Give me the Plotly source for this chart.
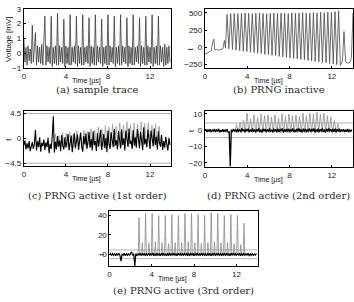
import numpy as np
import plotly.graph_objects as go

W, H = 354, 302

# ---------------- data ----------------
# (a) sample trace, sampled every 0.1 us
a_t0, a_dt = 0.0, 0.1
a_vals = [1.0, -0.6, 0.4, -0.8, 0.5, -0.5, 0.3, -0.7, 1.9, -0.6,
          0.4, 1.4, -0.8, 0.5, -0.6, 0.4, -0.7, 0.6, -0.8, 0.5,
          2.5, -0.8, 0.5, -0.6, 0.4, -0.7,
          2.5, -0.9, 0.4, -0.7, 0.5, -0.8,
          2.7, -0.8, 0.5, -0.6, 0.4, -0.7,
          2.3, -0.9, 0.5, -0.7, 0.4, -0.8,
          2.6, -0.8, 0.4, -0.6, 0.5, -0.7,
          2.5, -0.9, 0.5, -0.7, 0.4, -0.8,
          2.6, -0.8, 0.4, -0.6, 0.5, -0.7,
          2.4, -0.9, 0.5, -0.7, 0.4, -0.8,
          2.6, -0.8, 0.5, -0.6, 0.4, -0.7,
          2.3, -0.9, 0.4, -0.7, 0.5, -0.8,
          2.6, -0.8, 0.5, -0.6, 0.4, -0.7,
          2.5, -0.9, 0.4, -0.7, 0.5, -0.8,
          2.6, -0.8, 0.5, -0.6, 0.4, -0.7,
          2.4, -0.9, 0.5, -0.7, 0.4, -0.8,
          2.6, -0.8, 0.4, -0.6, 0.5, -0.7,
          2.4, -0.9, 0.5, -0.7, 0.4, -0.8,
          2.5, -0.8, 0.5, -0.6, 0.4, -0.7,
          2.6, -0.9, 0.4, -0.7, 0.5, -0.8,
          2.5, -0.8, 0.5, -0.6, 0.4, -0.9,
          0.6, -0.8, 0.4, -0.7, 0.5, -0.6]

# (b) PRNG inactive
b_pre_t = [0.0, 0.2, 0.4, 0.6, 0.75, 0.85, 0.95, 1.1, 1.3, 1.5, 1.7, 1.85, 1.95]
b_pre_v = [-100, -80, -60, -50, 80, 120, -40, -30, -40, -30, -20, 100, -10]
b_peak_start, b_period = 2.1, 0.34
b_peaks = [480, 490, 495, 490, 495, 500, 495, 490, 495, 500, 495, 490, 495, 500, 495, 500,
           495, 490, 500, 495, 500, 505, 500, 495, 505, 500, 510, 505, 515, 510, 520, 530]
b_troughs = [-20, -30, -40, -45, -55, -60, -70, -75, -85, -90, -100, -105, -115, -120, -130, -135,
             -145, -150, -160, -165, -175, -180, -190, -195, -205, -210, -220, -225, -235, -240, -250, -260]
b_post_t = [13.0, 13.15, 13.3, 13.5, 13.7, 13.85, 14.0]
b_post_v = [-200, 230, -210, -230, -220, -150, 500]

# (c) PRNG active 1st order
c_dt = 0.1
c_black = [-1.2, -0.4, -2.0, -0.9, -1.8, -0.5, -2.3, -1.1, -0.7, -1.9,
           -1.0, 1.5, -2.2, -0.5, -1.6, 0.2, -2.4, -0.8, -1.4, -0.2,
           -2.1, -0.7, -1.6, 0.1, -2.7, -1.0, -1.9, 0.3, 4.0, -2.6,
           -0.6, -2.0, 0.4, -1.5, -0.4, -2.3, 0.6, -1.3, -2.0, 0.2,
           -1.7, -0.6, 0.8, -2.2, -0.9, 0.5, -2.5, -0.5, 0.9, -1.8,
           -0.7, 0.7, -2.1, -0.5, 1.0, -1.6, -2.4, 0.4, -1.1, 0.9,
           -1.9, -0.6, 1.2, -1.7, -0.1, -2.2, 1.3, -1.2, -0.5, -2.3,
           0.9, -1.5, -0.4, 1.5, -2.1, -0.8, 0.8, -1.8, 0.1, -2.5,
           1.4, -1.1, -1.9, 1.1, -0.6, -1.6, 1.7, -1.3, -0.3, -2.0,
           1.3, -0.9, -1.8, 1.6, -1.2, 0.0, -2.2, 1.4, -0.7, -1.5,
           1.8, -1.0, -0.4, -1.9, 1.5, -1.3, 0.2, -1.7, 1.7, -0.8,
           -1.8, 1.2, -0.5, -2.1, 2.0, -1.1, -0.1, -1.6, 1.6, -0.9,
           -1.9, 1.4, -0.6, -1.4, 1.8, -1.2, 0.3, -2.0, 1.3, -0.9,
           -1.5, 0.6, -2.1, -0.5, -1.7, 0.3, -1.1, -2.2, 0.1, -1.2]
c_gray_start, c_gray_period = 3.0, 0.34
c_gray_peaks = [0.8, 0.5, 1.0, 0.9, 1.2, 0.8, 1.4, 1.1, 1.5, 1.3, 1.8, 1.5, 2.0, 1.7, 2.3,
                2.0, 2.6, 2.2, 2.8, 2.4, 3.0, 2.5, 2.8, 2.6, 3.0, 2.7, 2.9, 2.4, 2.6, 2.2]
c_gray_trough = -1.5

# (d) PRNG active 2nd order
d_dt = 0.1
d_black = [-0.3, 0.6, -1.0, 0.4, -0.8, 0.7, -1.2, 0.3, -0.6, 0.8,
           -1.1, 0.5, -0.7, 0.9, -1.3, 0.2, -0.9, 0.6, -1.0, 0.4,
           -0.8, 0.7, -1.2, -1.0, -22.0, 0.3, -1.1, 0.8, -0.6, 0.5,
           -1.2, 0.9, -0.7, 0.4, -1.0, 1.1, -0.5, 0.6, -1.3, 0.8,
           -0.6, 1.0, -1.1, 0.3, -0.8, 1.2, -0.9, 0.5, -1.2, 0.7,
           -0.7, 1.1, -1.0, 0.4, -1.3, 0.9, -0.6, 0.8, -1.1, 0.5,
           -0.9, 1.2, -0.7, 0.3, -1.2, 1.0, -0.8, 0.6, -1.0, 0.9,
           -1.1, 0.7, -0.6, 1.1, -1.3, 0.5, -0.9, 0.8, -0.7, 1.0,
           -1.2, 0.6, -0.8, 1.2, -1.0, 0.4, -1.1, 0.9, -0.6, 1.1,
           -0.9, 0.5, -1.2, 1.0, -0.7, 0.8, -1.3, 0.6, -0.8, 1.2,
           -1.0, 0.7, -0.6, 1.1, -1.2, 0.5, -0.9, 1.0, -1.1, 0.6,
           -0.7, 1.2, -1.0, 0.4, -1.3, 0.9, -0.8, 1.1, -0.6, 0.7,
           -1.1, 0.8, -0.9, 1.0, -1.2, 0.6, -0.7, 0.9, -1.0, 0.5,
           -0.8, 0.7, -1.1, 0.4, -0.9, 0.8, -1.2, 0.3, -0.6, 0.5]
d_gray_start, d_gray_period = 3.0, 0.33
d_gray_peaks = [3.5, 5.0, 6.0, 10.5, 7.0, 9.5, 8.0, 10.0, 9.0, 9.5, 8.0, 9.5, 7.5, 10.0, 8.5,
                10.0, 9.0, 9.5, 8.5, 10.5, 9.0, 10.5, 10.0, 11.0, 10.0, 10.5, 9.0, 8.0, 6.0, 4.0]
d_gray_trough = -1.5

# (e) PRNG active 3rd order
e_dt = 0.1
e_black = [-0.5, 0.8, -1.2, 0.6, -1.0, 0.9, -1.4, 0.5, -0.8, 1.0,
           -1.3, -7.0, 0.6, -0.9, 1.1, -1.5, 0.4, -1.0, 0.8, -1.2,
           0.7, 2.5, -1.1, 0.6, -12.0, 0.9, -1.4, 0.5, -0.8, 1.0,
           -1.3, 0.7, -1.0, 1.2, -1.5, 0.6, -0.9, 1.1, -1.2, 0.8,
           -0.7, 1.3, -1.4, 0.5, -1.0, 1.2, -1.1, 0.7, -1.5, 0.9,
           -0.8, 1.2, -1.3, 0.6, -1.6, 1.0, -0.9, 0.8, -1.2, 0.7,
           -1.0, 1.3, -0.8, 0.5, -1.4, 1.1, -1.0, 0.7, -1.2, 1.0,
           -1.3, 0.8, -0.7, 1.2, -1.5, 0.6, -1.0, 0.9, -0.8, 1.1,
           -1.4, 0.7, -0.9, 1.3, -1.1, 0.5, -1.2, 1.0, -0.7, 1.2,
           -1.0, 0.6, -1.4, 1.1, -0.8, 0.9, -1.5, 0.7, -0.9, 1.3,
           -1.2, 0.8, -0.7, 1.2, -1.3, 0.6, -1.0, 1.1, -1.2, 0.7,
           -0.8, 1.3, -1.1, 0.5, -1.5, 1.0, -0.9, 1.2, -0.7, 0.8,
           -1.2, 0.9, -1.0, 1.1, -1.4, 0.7, -0.8, 1.0, -1.1, 0.6,
           -0.9, 0.8, -1.2, 0.5, -1.0, 0.9, -1.3, 0.4, -0.7, 0.6]
e_tall_start, e_tall_period = 2.8, 0.62
e_tall_peaks = [38, 42, 42, 40, 40, 41, 40, 42, 42, 41, 40, 43, 42, 40, 41, 40, 32]
e_mid_peaks = [12, 12, 13, 12, 11, 12, 12, 13, 12, 11, 12, 13, 12, 12, 11, 10]
e_gray_trough = -1.0

threshold = 4.5

# ---------------- helpers ----------------
def uniform_t(start, dt, n):
    return start + dt * np.arange(n)

def spikes(start, period, peaks, trough):
    ts, vs = [], []
    for k, p in enumerate(peaks):
        tp = start + period * k
        ts += [tp - period / 2, tp]
        vs += [trough, p]
    ts.append(start + period * (len(peaks) - 1) + period / 2)
    vs.append(trough)
    return ts, vs

def px_x(x):
    return x / W

def px_y(y):
    return 1 - y / H

# panel pixel boxes: (left, right, top, bottom)
boxes = {
    "a": (22, 170, 5, 66),
    "b": (204, 353, 5, 66),
    "c": (22, 170, 110, 167),
    "d": (204, 353, 110, 168),
    "e": (108, 257, 213, 270),
}
order = ["a", "b", "c", "d", "e"]

fig = go.Figure()

TICKFONT = dict(family="Liberation Sans, Arial, sans-serif", size=8, color="#222")
axis_common = dict(showline=True, linecolor="black", linewidth=1, mirror=True,
                   ticks="inside", ticklen=2, tickcolor="black", showgrid=False,
                   zeroline=False, tickfont=TICKFONT)

yranges = {"a": [-1, 3], "b": [-300, 560], "c": [-5, 5], "d": [-22.5, 12], "e": [-12, 45]}
yticks = {"a": [-1, 0, 1, 2, 3], "b": [-250, 0, 250, 500], "c": [-4.5, 0, 4.5],
          "d": [-20, -10, 0, 10], "e": [0, 20, 40]}

layout_axes = {}
for i, key in enumerate(order):
    l, r, t, b = boxes[key]
    xa = "xaxis" if i == 0 else f"xaxis{i+1}"
    ya = "yaxis" if i == 0 else f"yaxis{i+1}"
    layout_axes[xa] = dict(domain=[px_x(l), px_x(r)], range=[0, 14], tickvals=[0, 4, 8, 12],
                           anchor=f"y{'' if i == 0 else i+1}", **axis_common)
    layout_axes[ya] = dict(domain=[px_y(b), px_y(t)], range=yranges[key], tickvals=yticks[key],
                           anchor=f"x{'' if i == 0 else i+1}", **axis_common)

def ax(i):
    return ("x" if i == 0 else f"x{i+1}", "y" if i == 0 else f"y{i+1}")

# (a)
xa_, ya_ = ax(0)
fig.add_trace(go.Scatter(x=uniform_t(a_t0, a_dt, len(a_vals)), y=a_vals, mode="lines",
                         line=dict(color="#3a3a3a", width=0.8), xaxis=xa_, yaxis=ya_))

# (b)
xa_, ya_ = ax(1)
bt, bv = [], []
for k, (p, tr) in enumerate(zip(b_peaks, b_troughs)):
    tp = b_peak_start + b_period * k
    bt += [tp, tp + b_period / 2]
    bv += [p, tr]
fig.add_trace(go.Scatter(x=b_pre_t + bt + b_post_t, y=b_pre_v + bv + b_post_v, mode="lines",
                         line=dict(color="#4a4a4a", width=0.8), xaxis=xa_, yaxis=ya_))

GRAYLINE = "#b4b4b4"
# (c)
xa_, ya_ = ax(2)
for v in (threshold, -threshold):
    fig.add_trace(go.Scatter(x=[0, 14], y=[v, v], mode="lines", line=dict(color=GRAYLINE, width=1),
                             xaxis=xa_, yaxis=ya_))
gt, gv = spikes(c_gray_start, c_gray_period, c_gray_peaks, c_gray_trough)
fig.add_trace(go.Scatter(x=gt, y=gv, mode="lines", line=dict(color="#9a9a9a", width=0.8),
                         xaxis=xa_, yaxis=ya_))
fig.add_trace(go.Scatter(x=uniform_t(0, c_dt, len(c_black)), y=c_black, mode="lines",
                         line=dict(color="black", width=1.1), xaxis=xa_, yaxis=ya_))

# (d)
xa_, ya_ = ax(3)
for v in (threshold, -threshold):
    fig.add_trace(go.Scatter(x=[0, 14], y=[v, v], mode="lines", line=dict(color=GRAYLINE, width=1),
                             xaxis=xa_, yaxis=ya_))
gt, gv = spikes(d_gray_start, d_gray_period, d_gray_peaks, d_gray_trough)
fig.add_trace(go.Scatter(x=gt, y=gv, mode="lines", line=dict(color="#8c8c8c", width=0.8),
                         xaxis=xa_, yaxis=ya_))
fig.add_trace(go.Scatter(x=uniform_t(0, d_dt, len(d_black)), y=d_black, mode="lines",
                         line=dict(color="black", width=1.3), xaxis=xa_, yaxis=ya_))

# (e)
xa_, ya_ = ax(4)
for v in (threshold, -threshold):
    fig.add_trace(go.Scatter(x=[0, 14], y=[v, v], mode="lines", line=dict(color=GRAYLINE, width=1),
                             xaxis=xa_, yaxis=ya_))
et, ev = [], []
for k, p in enumerate(e_tall_peaks):
    tp = e_tall_start + e_tall_period * k
    et += [tp - 0.08, tp, tp + 0.08]
    ev += [e_gray_trough, p, e_gray_trough]
    if k < len(e_mid_peaks) and k < len(e_tall_peaks) - 1:
        tm = tp + e_tall_period / 2
        et += [tm - 0.08, tm, tm + 0.08]
        ev += [e_gray_trough, e_mid_peaks[k], e_gray_trough]
fig.add_trace(go.Scatter(x=et, y=ev, mode="lines", line=dict(color="#8c8c8c", width=0.8),
                         xaxis=xa_, yaxis=ya_))
fig.add_trace(go.Scatter(x=uniform_t(0, e_dt, len(e_black)), y=e_black, mode="lines",
                         line=dict(color="black", width=1.2), xaxis=xa_, yaxis=ya_))

# ---------------- annotations ----------------
ann = []
SANS = "Liberation Sans, Arial, sans-serif"
SERIF = "DejaVu Serif, Liberation Serif, serif"

def text(x, y, s, size, family, angle=0, italic=False, xanchor="center", color="#111"):
    ann.append(dict(x=px_x(x), y=px_y(y), xref="paper", yref="paper", text=(f"<i>{s}</i>" if italic else s),
                    showarrow=False, font=dict(family=family, size=size, color=color),
                    textangle=angle, xanchor=xanchor, yanchor="middle"))

captions = {
    "a": "(a) sample trace",
    "b": "(b) PRNG inactive",
    "c": "(c) PRNG active (1st order)",
    "d": "(d) PRNG active (2nd order)",
    "e": "(e) PRNG active (3rd order)",
}
cap_y = {"a": 88, "b": 88, "c": 197, "d": 197, "e": 295}
zero_y = {"b": 46, "c": 139, "d": 130, "e": 258}
t_x = {"b": 190, "c": 7, "d": 190, "e": 100}
for key in order:
    l, r, t, b = boxes[key]
    xc = l + (r - l) * 6.0 / 14.0
    text(xc, b + 13, "Time [µs]", 7, SANS)
    text((l + r) / 2, cap_y[key], captions[key], 10, SERIF, color="#2a2a2a")
    if key != "a":
        text(t_x[key], zero_y[key], "t", 8, SANS, angle=-90)
text(7, 36, "Voltage [mV]", 8, SANS, angle=-90)

fig.update_layout(width=W, height=H, margin=dict(l=0, r=0, t=0, b=0),
                  paper_bgcolor="white", plot_bgcolor="white", showlegend=False,
                  annotations=ann, **layout_axes)

fig.write_html("out.html")
